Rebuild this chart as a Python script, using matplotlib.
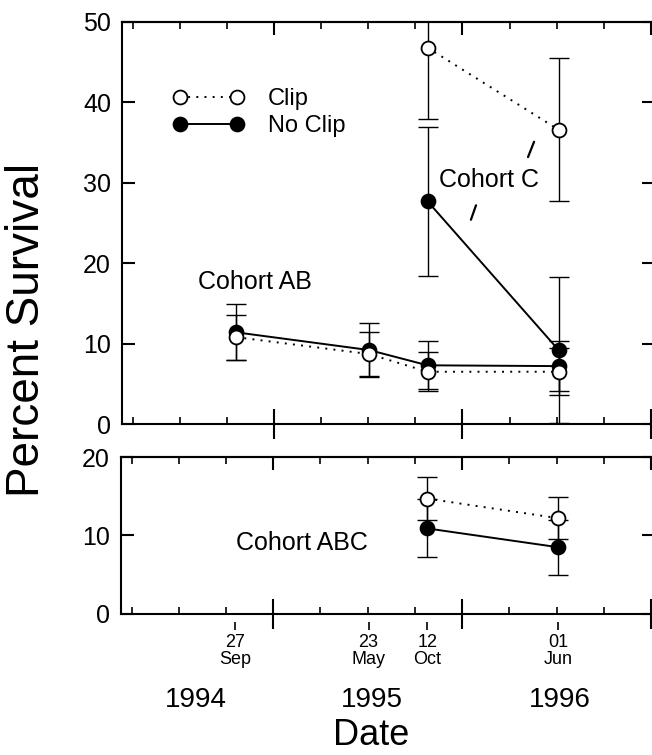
import matplotlib
matplotlib.use('Agg')
import matplotlib.pyplot as plt
from matplotlib.ticker import MultipleLocator, NullFormatter

plt.rcParams['font.family'] = ['Liberation Sans', 'DejaVu Sans']

# sample dates (positions in decimal years, as plotted) and their labels
sample_x = [1994.80, 1995.505, 1995.815, 1996.51]
date_labels = ['27\nSep', '23\nMay', '12\nOct', '01\nJun']
year_labels = ['1994', '1995', '1996']
year_pos = [1994.59, 1995.52, 1996.52]

# Cohort AB (all four dates)
ab_clip = [10.8, 8.7, 6.5, 6.5]
ab_clip_err = [2.8, 2.7, 2.4, 2.9]
ab_noclip = [11.4, 9.2, 7.3, 7.2]
ab_noclip_err = [3.5, 3.4, 3.0, 3.1]

# Cohort C (last two dates)
c_clip = [46.8, 36.6]
c_clip_err = [8.9, 8.9]
c_noclip = [27.7, 9.2]
c_noclip_err = [9.3, 9.1]

# Cohort ABC (last two dates)
abc_clip = [14.7, 12.2]
abc_clip_err = [2.7, 2.7]
abc_noclip = [10.9, 8.5]
abc_noclip_err = [3.7, 3.5]

x_range = (1994.194, 1997.016)


def draw_series(ax, x, y, err, filled, label=None):
    """errorbars + line + circle markers for one treatment"""
    ls = '-' if filled else (0, (1, 3.2))
    face = 'black' if filled else 'white'
    ax.errorbar(x, y, yerr=err, fmt='none', ecolor='black', elinewidth=1.0,
                capsize=7.5, capthick=1.0, zorder=2)
    line, = ax.plot(x, y, linestyle=ls, color='black', linewidth=1.4,
                    marker='o', markersize=10, markerfacecolor=face,
                    markeredgecolor='black', markeredgewidth=1.3,
                    zorder=4 if not filled else 3, label=label)
    return line


def style_axis(ax, ymax):
    ax.set_xlim(*x_range)
    ax.set_ylim(0, ymax)
    for s in ax.spines.values():
        s.set_linewidth(1.5)
    # bottom: year ticks cross the axis, quarter ticks inside
    ax.xaxis.set_major_locator(MultipleLocator(1))
    ax.xaxis.set_minor_locator(MultipleLocator(0.25))
    ax.xaxis.set_major_formatter(NullFormatter())
    ax.tick_params(axis='x', which='major', direction='inout', length=21, width=1.5)
    ax.tick_params(axis='x', which='minor', direction='in', length=5, width=1.2)
    # top spine ticks, all inside
    top = ax.secondary_xaxis('top')
    top.xaxis.set_major_locator(MultipleLocator(1))
    top.xaxis.set_minor_locator(MultipleLocator(0.25))
    top.xaxis.set_major_formatter(NullFormatter())
    top.tick_params(which='major', direction='in', length=9, width=1.5)
    top.tick_params(which='minor', direction='in', length=5, width=1.2)
    top.spines['top'].set_linewidth(1.5)
    # y ticks on both sides, inside
    ax.yaxis.set_major_locator(MultipleLocator(10))
    ax.tick_params(axis='y', direction='in', length=9, width=1.5, right=True,
                   labelsize=18, pad=8)


fig = plt.figure(figsize=(6.52, 7.55), dpi=100)
ax_top = fig.add_axes([0.1871, 0.4384, 0.8159, 0.5325])
ax_bot = fig.add_axes([0.1856, 0.1868, 0.8174, 0.2079])

# ---- top panel: Cohort AB and Cohort C
draw_series(ax_top, sample_x, ab_noclip, ab_noclip_err, True)
draw_series(ax_top, sample_x, ab_clip, ab_clip_err, False)
h_noclip = draw_series(ax_top, sample_x[2:], c_noclip, c_noclip_err, True, 'No Clip')
h_clip = draw_series(ax_top, sample_x[2:], c_clip, c_clip_err, False, 'Clip')
style_axis(ax_top, 50)

ax_top.legend(handles=[h_clip, h_noclip], loc='upper left',
              bbox_to_anchor=(0.096, 0.835), frameon=False, fontsize=17,
              numpoints=2, handlelength=3.0, handletextpad=1.0,
              labelspacing=0.2, borderpad=0, borderaxespad=0)

ax_top.text(1994.90, 17.6, 'Cohort AB', fontsize=18, ha='center', va='center')
ax_top.text(1996.14, 30.3, 'Cohort C', fontsize=18, ha='center', va='center')
# little pointer strokes next to the Cohort C label
ax_top.annotate('', xy=(1996.380, 35.1), xytext=(1996.348, 33.2),
                arrowprops=dict(arrowstyle='-', lw=1.6, color='black',
                                shrinkA=0, shrinkB=0))
ax_top.annotate('', xy=(1996.072, 27.2), xytext=(1996.045, 25.4),
                arrowprops=dict(arrowstyle='-', lw=1.6, color='black',
                                shrinkA=0, shrinkB=0))

# ---- bottom panel: Cohort ABC
draw_series(ax_bot, sample_x[2:], abc_noclip, abc_noclip_err, True)
draw_series(ax_bot, sample_x[2:], abc_clip, abc_clip_err, False)
style_axis(ax_bot, 20)
ax_bot.text(1995.154, 9.1, 'Cohort ABC', fontsize=18, ha='center', va='center')

# sampling date ticks just below the axis
dates = ax_bot.secondary_xaxis(-0.05)
dates.spines['bottom'].set_visible(False)
dates.set_xticks(sample_x)
dates.set_xticklabels(date_labels)
dates.tick_params(direction='out', length=6, width=1.2, labelsize=13, pad=3)
for lbl in dates.get_xticklabels():
    lbl.set_linespacing(0.95)

for name, xpos in zip(year_labels, year_pos):
    ax_bot.text(xpos, -0.551, name, fontsize=20, ha='center', va='center',
                transform=ax_bot.get_xaxis_transform())

ax_bot.set_xlabel('Date', fontsize=26)
ax_bot.xaxis.set_label_coords(0.47, -0.66)

fig.text(27 / 652, 1 - 330 / 755, 'Percent Survival', fontsize=33,
         rotation=90, ha='center', va='center')

fig.savefig('out.png', dpi=100)
